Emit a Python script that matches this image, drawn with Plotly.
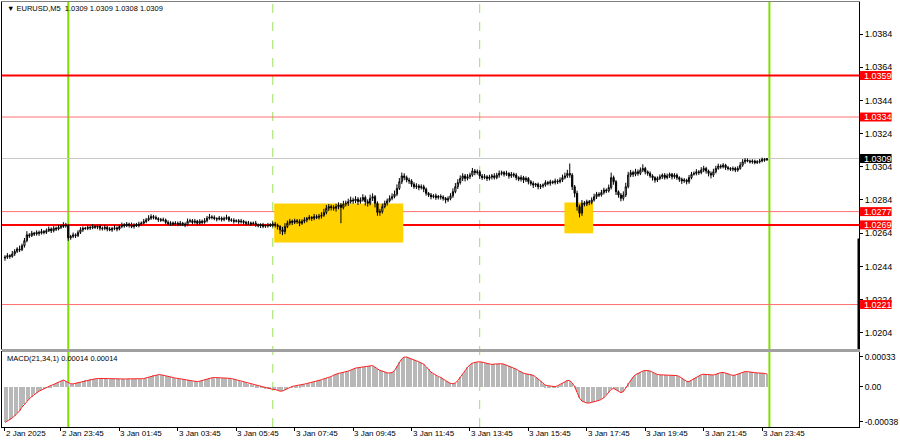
import plotly.graph_objects as go
import pandas as pd

# ---------------- data (EURUSD M5, prices in points = 1e-5) ----------------
start_time = "2025-01-02 21:50"

close_pts = [
    102495,102505,102500,102515,102530,102545,102540,102565,102595,102630,
    102625,102640,102635,102645,102640,102650,102645,102655,102665,102655,
    102670,102665,102675,102680,102690,102685,102612,102620,102630,102625,
    102645,102660,102670,102668,102675,102672,102680,102676,102682,102670,
    102668,102675,102665,102660,102668,102672,102665,102680,102690,102685,
    102695,102688,102680,102690,102685,102695,102700,102710,102720,102730,
    102740,102735,102728,102722,102718,102720,102705,102698,102702,102695,
    102700,102692,102700,102695,102690,102712,102715,102705,102712,102700,
    102712,102705,102715,102730,102738,102735,102728,102725,102730,102722,
    102728,102735,102720,102718,102712,102715,102708,102712,102705,102700,
    102702,102698,102700,102690,102685,102690,102682,102688,102685,102690,
    102695,102688,102680,102660,102650,102680,102700,102712,102705,102715,
    102710,102700,102712,102720,102728,102735,102730,102740,102735,102742,
    102748,102765,102790,102800,102795,102790,102800,102810,102795,102815,
    102820,102830,102840,102835,102845,102830,102840,102855,102830,102820,
    102850,102860,102820,102765,102770,102800,102820,102835,102850,102860,
    102875,102910,102950,102985,102975,102960,102955,102935,102920,102925,
    102915,102920,102905,102880,102870,102860,102865,102855,102862,102858,
    102850,102840,102848,102865,102890,102920,102945,102970,102985,102970,
    102980,102990,103015,103005,103010,102985,102975,102980,102970,102978,
    102985,102975,102990,103000,103005,102995,103000,102985,102995,102990,
    102975,102965,102975,102960,102970,102950,102940,102930,102935,102920,
    102925,102930,102945,102940,102950,102945,102955,102950,102960,102975,
    102985,103000,102990,102920,102880,102800,102760,102820,102815,102830,
    102825,102840,102860,102875,102870,102885,102900,102895,102915,102975,
    102950,102890,102870,102850,102870,102920,102990,103005,102995,103010,
    103000,103020,103030,103010,103000,102985,102975,102960,102970,102980,
    102990,102975,102985,102995,102980,102990,102975,102965,102955,102960,
    102950,102975,102995,103000,103010,103005,103020,103030,103015,103000,
    102990,103010,103030,103045,103040,103050,103035,103030,103025,103030,
    103020,103030,103050,103070,103080,103075,103070,103075,103065,103070,
    103075,103085,103080,103090,
]
first_open_pts = 102490

upper_wick_pts = [
    12,15,8,18,14,10,20,12,16,22,10,14,8,12,11,16,9,13,15,10,
    12,9,14,10,16,12,8,10,14,9,12,16,10,8,12,10,14,8,10,12,
    10,14,8,12,10,16,8,12,14,10,12,8,16,10,12,14,10,16,12,18,
    14,10,12,8,10,14,8,12,10,8,12,10,14,8,10,16,12,10,14,8,
    12,10,16,14,18,10,12,8,14,10,12,16,8,10,12,8,10,14,8,10,
    12,8,10,14,8,10,12,8,14,10,16,12,10,8,18,20,16,14,10,12,
    10,14,12,16,10,14,8,16,12,14,18,22,20,16,12,14,18,16,12,20,
    16,18,20,14,18,12,16,20,12,14,22,20,10,12,16,18,16,14,18,20,
    22,24,22,20,16,12,14,10,12,16,10,14,12,10,8,12,10,14,8,12,
    10,8,14,16,20,22,20,18,16,12,16,14,18,12,14,10,12,16,10,14,
    12,16,14,18,12,10,16,8,14,10,12,8,14,10,12,8,10,12,8,10,
    12,10,14,10,12,8,14,10,16,18,20,22,60,12,10,16,12,20,14,12,
    10,16,18,14,12,16,14,10,18,30,12,10,8,12,22,24,20,16,12,18,
    14,16,25,10,8,12,10,8,12,14,10,12,14,10,8,12,10,8,10,12,
    8,16,14,12,16,10,18,16,10,8,12,18,16,14,10,12,8,10,8,12,
    10,14,18,16,12,10,8,10,8,10,12,10,8,2,
]
lower_wick_pts = [
    16,10,14,8,12,10,14,8,12,10,14,8,12,10,16,8,12,10,8,14,
    10,12,8,10,8,12,18,12,10,14,8,10,12,8,10,12,8,10,12,14,
    12,10,14,8,12,10,14,8,10,12,8,14,10,12,8,10,12,8,10,8,
    10,12,8,14,10,8,12,10,14,8,12,10,8,12,14,8,10,12,8,14,
    10,12,8,10,8,12,10,14,8,12,10,8,12,10,14,8,12,10,14,12,
    10,14,8,12,10,14,12,10,12,8,16,14,18,25,22,16,10,12,16,10,
    14,18,10,12,14,10,16,12,10,12,14,10,12,16,18,14,20,16,95,12,
    14,16,12,18,14,20,12,10,24,20,12,16,25,20,20,12,10,14,10,12,
    10,12,10,14,16,14,18,16,12,14,16,12,18,14,12,16,10,14,12,16,
    14,20,12,10,12,10,14,12,16,18,12,14,10,16,12,18,14,10,16,12,
    14,12,10,16,12,14,10,16,12,14,16,12,14,18,12,16,14,18,12,16,
    14,12,10,12,14,10,12,14,10,12,10,12,16,20,24,25,25,16,14,12,
    16,12,10,14,12,10,12,14,10,12,18,20,16,18,14,12,10,12,16,12,
    14,10,12,16,14,12,18,16,12,10,14,12,10,12,16,12,14,16,18,12,
    16,12,10,8,12,14,10,12,16,18,20,12,10,8,12,10,14,12,10,12,
    12,10,8,10,12,8,10,12,10,8,10,8,10,1,
]

# MACD(21,34,1) main value, in units of 1e-6
macd_micro = [
    -390,-376,-360,-340,-318,-290,-262,-222,-190,-155,
    -130,-105,-82,-62,-46,-33,-18,-5,6,18,
    28,40,55,68,77,62,46,36,34,40,
    50,58,66,72,78,83,86,90,93,95,
    96,94,93,92,90,88,86,85,86,88,
    89,88,88,88,89,90,91,93,100,110,
    120,127,132,136,135,128,120,114,110,104,
    98,94,91,86,80,76,72,67,62,60,
    64,72,82,88,95,101,104,104,103,103,
    102,100,96,93,86,78,70,60,52,44,
    38,32,25,19,12,4,-4,-12,-18,-22,
    -26,-28,-36,-46,-44,-32,-14,0,6,12,
    15,18,24,32,38,44,52,60,66,72,
    80,90,98,104,115,130,142,150,155,160,
    168,175,185,198,208,212,215,220,224,227,
    230,236,218,198,182,175,165,155,154,160,
    180,228,270,310,328,330,318,305,298,288,
    278,268,250,225,195,162,148,128,115,105,
    92,70,55,40,35,45,70,110,148,180,
    215,245,262,272,276,278,276,268,260,252,
    248,252,256,258,256,250,240,228,220,210,
    196,180,165,152,145,142,139,128,110,88,
    62,35,20,14,10,2,4,14,26,40,
    56,72,70,45,5,-60,-120,-155,-170,-176,
    -176,-170,-165,-158,-148,-135,-118,-90,-55,-26,
    -15,-30,-48,-62,-50,-10,40,80,110,135,
    150,165,175,182,183,176,162,148,138,134,
    132,133,134,132,128,128,126,115,98,80,
    62,60,75,95,110,125,136,140,136,132,
    130,132,140,150,158,160,156,145,135,128,
    132,142,155,165,170,168,162,160,158,155,
    154,152,150,142,
]

x_tick_times = ["2025-01-02 21:50", "2025-01-02 23:45", "2025-01-03 01:45", "2025-01-03 03:45",
                "2025-01-03 05:45", "2025-01-03 07:45", "2025-01-03 09:45", "2025-01-03 11:45",
                "2025-01-03 13:45", "2025-01-03 15:45", "2025-01-03 17:45", "2025-01-03 19:45",
                "2025-01-03 21:45", "2025-01-03 23:45"]
x_tick_labels = ["2 Jan 2025", "2 Jan 23:45", "3 Jan 01:45", "3 Jan 03:45", "3 Jan 05:45",
                 "3 Jan 07:45", "3 Jan 09:45", "3 Jan 11:45", "3 Jan 13:45", "3 Jan 15:45",
                 "3 Jan 17:45", "3 Jan 19:45", "3 Jan 21:45", "3 Jan 23:45"]

price_ticks = [1.0204, 1.0224, 1.0244, 1.0264, 1.0284, 1.0304, 1.0324, 1.0344, 1.0364, 1.0384]
macd_ticks = [0.00033, 0.0, -0.00038]
macd_tick_labels = ["0.00033", "0.00", "-0.00038"]

strong_levels = [1.0359, 1.0269]
weak_levels = [1.0334, 1.0277, 1.0221]
last_price = 1.0309

day_separators = ["2025-01-03 00:00", "2025-01-04 00:00"]
session_lines = ["2025-01-03 07:00", "2025-01-03 14:05"]

zone_starts = ["2025-01-03 07:03", "2025-01-03 16:59"]
zone_ends = ["2025-01-03 11:28", "2025-01-03 17:58"]
zone_tops = [1.02819, 1.02825]
zone_bottoms = [1.02584, 1.02639]

title_text = "\u25BC EURUSD,M5  1.0309 1.0309 1.0308 1.0309"
macd_text = "MACD(21,34,1) 0.00014 0.00014"

# ---------------- build ----------------
start = pd.Timestamp(start_time)
step = pd.Timedelta("5min")


def t2i(t):
    return (pd.Timestamp(t) - start) / step


n = len(close_pts)
xs = list(range(n))
close = [c / 1e5 for c in close_pts]
opn = [first_open_pts / 1e5] + close[:-1]
high = [max(o, c) + u / 1e5 for o, c, u in zip(opn, close, upper_wick_pts)]
low = [min(o, c) - l / 1e5 for o, c, l in zip(opn, close, lower_wick_pts)]
macd = [m / 1e6 for m in macd_micro]

FONT = "Liberation Sans, Arial, sans-serif"

fig = go.Figure()
fig.add_trace(go.Candlestick(
    x=xs, open=opn, high=high, low=low, close=close,
    increasing=dict(line=dict(color="black", width=1), fillcolor="white"),
    decreasing=dict(line=dict(color="black", width=1), fillcolor="black"),
    whiskerwidth=0, xaxis="x", yaxis="y", showlegend=False, hoverinfo="skip"))
fig.add_trace(go.Bar(x=xs, y=macd, width=0.45, marker=dict(color="#b8b8b8", line=dict(width=0)),
                     xaxis="x2", yaxis="y2", showlegend=False, hoverinfo="skip"))
fig.add_trace(go.Scatter(x=xs, y=macd, mode="lines", line=dict(color="#ff2020", width=1),
                         xaxis="x2", yaxis="y2", showlegend=False, hoverinfo="skip"))

XR = [-1.22, 350.8]
YR = [1.01942, 1.04033]
Y2R = [-0.00044, 0.000385]
MAIN_DOM = [0.1835, 1.0]
MACD_DOM = [0.0, 0.1765]

shapes = []
# yellow zones
for s, e, t, b in zip(zone_starts, zone_ends, zone_tops, zone_bottoms):
    shapes.append(dict(type="rect", xref="x", yref="y", x0=t2i(s), x1=t2i(e), y0=b, y1=t,
                       fillcolor="#ffd200", line=dict(width=0), layer="below"))
# vertical lines
for t in session_lines:
    shapes.append(dict(type="line", xref="x", yref="paper", x0=t2i(t), x1=t2i(t), y0=0, y1=1,
                       line=dict(color="#9be35a", width=1, dash="dash"), layer="below"))
for t in day_separators:
    shapes.append(dict(type="line", xref="x", yref="paper", x0=t2i(t), x1=t2i(t), y0=0, y1=1,
                       line=dict(color="#7fe000", width=2), layer="below"))
# horizontal levels
shapes.append(dict(type="line", xref="paper", yref="y", x0=0, x1=1, y0=last_price, y1=last_price,
                   line=dict(color="#c8c8c8", width=1), layer="below"))
for lv in weak_levels:
    shapes.append(dict(type="line", xref="paper", yref="y", x0=0, x1=1, y0=lv, y1=lv,
                       line=dict(color="#ff7070", width=1), layer="below"))
for lv in strong_levels:
    shapes.append(dict(type="line", xref="paper", yref="y", x0=0, x1=1, y0=lv, y1=lv,
                       line=dict(color="#ff0000", width=2), layer="below"))
# separator between panels
shapes.append(dict(type="rect", xref="paper", yref="paper", x0=0, x1=1.0012,
                   y0=MACD_DOM[1], y1=MAIN_DOM[0], fillcolor="#a0a0a0",
                   line=dict(width=0), layer="above"))
# black bar at right edge of main panel
shapes.append(dict(type="line", xref="paper", yref="y", x0=0.9994, x1=0.9994, y0=1.02608, y1=YR[0],
                   line=dict(color="black", width=2), layer="above"))

annotations = []
# price level labels on the right axis
half = 0.00027
for lv, col in [(v, "#ff0000") for v in strong_levels + weak_levels] + [(last_price, "#000000")]:
    shapes.append(dict(type="rect", xref="paper", yref="y", x0=1.0012, x1=1.038,
                       y0=lv - half, y1=lv + half, fillcolor=col, line=dict(width=0), layer="above"))
    annotations.append(dict(xref="paper", yref="y", x=1.0012, y=lv, xanchor="left", yanchor="middle",
                            xshift=2, text=f"{lv:.4f}", showarrow=False,
                            font=dict(family=FONT, size=9, color="white")))
# x labels (left-aligned at tick like MT4)
for t, lab in zip(x_tick_times, x_tick_labels):
    annotations.append(dict(xref="x2", yref="paper", x=t2i(t), y=0, xanchor="left", yanchor="top",
                            xshift=-1, yshift=0, text=lab, showarrow=False,
                            font=dict(family=FONT, size=8, color="black")))
annotations.append(dict(xref="paper", yref="paper", x=0.003, y=1, xanchor="left", yanchor="top",
                        yshift=0, text=title_text, showarrow=False,
                        font=dict(family=FONT, size=7.5, color="black")))
annotations.append(dict(xref="paper", yref="paper", x=0.003, y=MACD_DOM[1], xanchor="left",
                        yanchor="top", yshift=0, text=macd_text, showarrow=False,
                        font=dict(family=FONT, size=7.5, color="black")))

fig.update_layout(
    width=900, height=441,
    margin=dict(l=1, r=35, t=2, b=14),
    paper_bgcolor="white", plot_bgcolor="white",
    font=dict(family=FONT, size=8, color="black"),
    showlegend=False, bargap=0,
    shapes=shapes, annotations=annotations,
    xaxis=dict(domain=[0, 1], range=XR, anchor="y", showticklabels=False, showgrid=False,
               zeroline=False, showline=True, mirror=True, linecolor="#808080", ticks="",
               rangeslider=dict(visible=False), fixedrange=True),
    xaxis2=dict(domain=[0, 1], range=XR, anchor="y2", matches="x", showticklabels=False,
                showgrid=False, zeroline=False, showline=True, mirror=True, linecolor="black",
                tickvals=[t2i(t) for t in x_tick_times], ticks="outside", ticklen=3,
                tickcolor="black"),
    yaxis=dict(domain=MAIN_DOM, range=YR, side="right", showgrid=False, zeroline=False,
               showline=True, mirror=True, linecolor="black",
               tickvals=price_ticks, ticktext=[f"{p:.4f}" for p in price_ticks],
               ticks="outside", ticklen=3, tickcolor="black", tickfont=dict(size=9)),
    yaxis2=dict(domain=MACD_DOM, range=Y2R, side="right", showgrid=False, zeroline=False,
                showline=True, mirror=True, linecolor="black",
                tickvals=macd_ticks, ticktext=macd_tick_labels,
                ticks="outside", ticklen=3, tickcolor="black", tickfont=dict(size=8.5)),
)

fig.write_html("out.html", config={"displayModeBar": False},
               post_script="document.body.style.margin='0';document.body.style.overflow='hidden';")
